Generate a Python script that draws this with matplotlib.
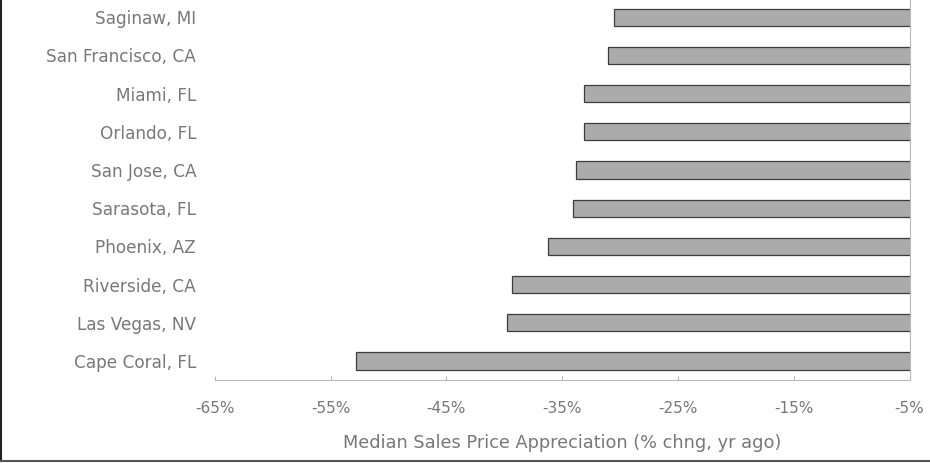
import matplotlib.pyplot as plt
from matplotlib.lines import Line2D
from matplotlib.ticker import FuncFormatter

plt.rcParams["font.family"] = ["DejaVu Sans"]

# Метро-районы и падение медианной цены (% к прошлому году)
cities = ["Saginaw, MI", "San Francisco, CA", "Miami, FL", "Orlando, FL",
          "San Jose, CA", "Sarasota, FL", "Phoenix, AZ", "Riverside, CA",
          "Las Vegas, NV", "Cape Coral, FL"]
change = [-30.5, -31.0, -33.1, -33.1, -33.8, -34.1, -36.2, -39.3, -39.8, -52.8]
xticks = [-65, -55, -45, -35, -25, -15, -5]

text_color = "#787878"
line_color = "#b8b8b8"

fig = plt.figure(figsize=(9.3, 4.63), dpi=100)
ax = fig.add_axes([0.231, 0.179, 0.747, 0.825])

pos = list(range(len(cities)))
ax.barh(pos, change, height=0.45, color="#ababab", edgecolor="#3c3c3c",
        linewidth=0.9)

ax.set_xlim(-65, -5)
ax.set_ylim(len(cities) - 0.5, -0.5)
ax.set_xticks(xticks)
ax.xaxis.set_major_formatter(FuncFormatter(lambda v, p: f"{v:.0f}%"))
ax.set_yticks(pos)
ax.set_yticklabels(cities)

ax.tick_params(axis="y", length=0, pad=13.5, labelsize=12.2, labelcolor=text_color)
ax.tick_params(axis="x", length=3, direction="in", color=line_color, pad=15,
               labelsize=11, labelcolor=text_color)
ax.set_xlabel("Median Sales Price Appreciation (% chng, yr ago)", fontsize=12.8,
              color=text_color, labelpad=13)

for side in ["top", "left"]:
    ax.spines[side].set_visible(False)
for side in ["bottom", "right"]:
    ax.spines[side].set_color(line_color)
    ax.spines[side].set_linestyle((0, (2, 1)))
    ax.spines[side].set_linewidth(0.8)

# рамка слева и снизу
fig.add_artist(Line2D([0.0015, 0.0015], [0.004, 1], color="#222222", lw=1.5,
                      transform=fig.transFigure))
fig.add_artist(Line2D([0, 1], [0.004, 0.004], color="#555555", lw=1.5,
                      transform=fig.transFigure))

fig.savefig("out.png", dpi=100)
